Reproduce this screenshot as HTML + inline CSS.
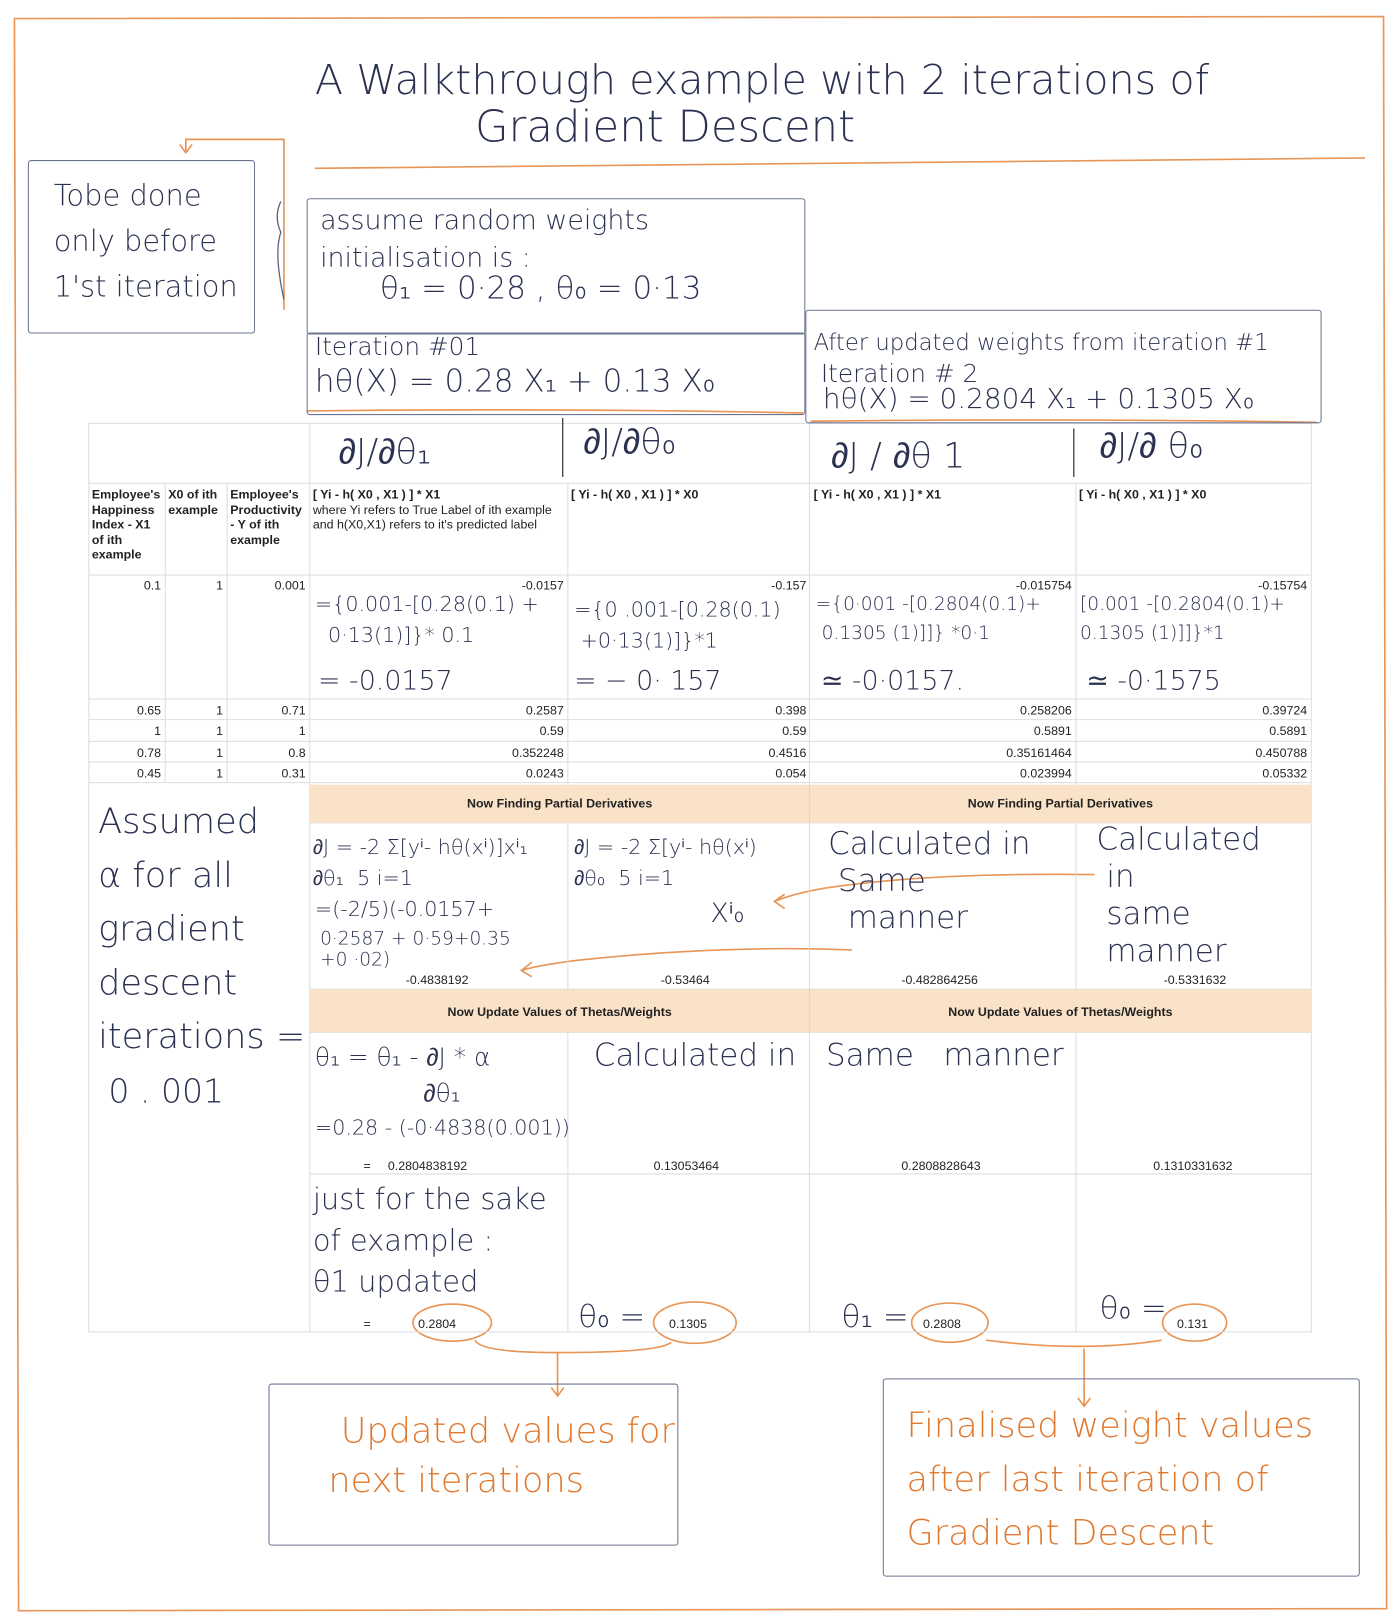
<!DOCTYPE html>
<html><head><meta charset="utf-8"><style>
html,body{margin:0;padding:0;background:#fff;width:1400px;height:1619px;overflow:hidden}
#w{position:absolute;left:0;top:0;width:1356px;height:1568px;transform:scale(1.0325);transform-origin:0 0;font-family:"Liberation Sans",sans-serif}
.a{position:absolute;white-space:nowrap}
.h{color:#2b3150;font-family:"DejaVu Sans","Liberation Sans",sans-serif;font-weight:300}
.o{color:#e0782e}
.box{position:absolute;border:1.5px solid #6a7590;border-radius:3px}
.t{font-size:12px;color:#222}
.b{font-weight:bold}
.r{text-align:right}
</style></head><body><div id="w">
<svg class="a" style="left:0;top:0" width="1356" height="1568">
<g fill="none" stroke="#e89556" stroke-width="1.6">
<path d="M14 18 L1340 16 L1343 1558 L18 1560 Z"/>
<path d="M305 163 Q800 158 1322 153"/>
<path d="M297 398 Q540 395 778 400"/>
<path d="M785 408 Q1030 405 1275 409"/>
<path d="M275 300 L275 135 L180 135 L180 148 M174 140 L180 148 L186 140"/>
<ellipse cx="438" cy="1281" rx="38" ry="18"/>
<ellipse cx="673" cy="1281" rx="40" ry="20"/>
<ellipse cx="920" cy="1281" rx="37" ry="19"/>
<ellipse cx="1157" cy="1281" rx="31" ry="18"/>
<path d="M460 1298 Q465 1310 540 1310 Q640 1310 650 1300 M540 1310 L540 1352 M534 1344 L540 1352 L546 1344"/>
<path d="M955 1298 Q1050 1310 1125 1298 M1050 1306 L1050 1362 M1044 1354 L1050 1362 L1056 1354"/>
<path d="M825 920 Q700 915 560 930 Q520 935 505 940 M515 932 L505 940 L515 946"/>
<path d="M1060 847 Q900 845 800 860 Q770 865 750 873 M760 866 L750 873 L760 880"/>
</g>
<g fill="none" stroke="#5c6784" stroke-width="1.3">
<path d="M272 195 Q265 210 272 225 Q265 245 275 290"/>
</g>
<g stroke="#dadde3" stroke-width="1" fill="none">
<rect x="86" y="410" width="1184" height="880"/>
<path d="M86 468H1270M86 557H1270M86 677H1270M86 697H1270M86 718H1270M86 738H1270M86 758H1270M300 797H1270M300 958H1270M300 1000H1270M300 1137H1270"/>
<path d="M160 468V758M220 468V758M300 410V1290M550 468V760M550 797V958M550 1000V1290M784 410V760M784 797V958M784 1000V1290M1042 468V760M1042 797V958M1042 1000V1290"/>
</g>
<rect x="300" y="760" width="970" height="37" fill="#f9e2c8"/>
<rect x="300" y="958" width="970" height="42" fill="#f9e2c8"/>
<line x1="784" y1="760" x2="784" y2="797" stroke="#eed2b4"/>
<line x1="784" y1="958" x2="784" y2="1000" stroke="#eed2b4"/>
<path d="M545 405 L545 462 M1040 415 L1040 462" stroke="#333" stroke-width="1.2"/>
</svg>

<div class="a h" style="left:305px;top:55px;font-size:40px">A Walkthrough example with 2 iterations of</div>
<div class="a h" style="left:460px;top:98px;font-size:42px">Gradient Descent</div>

<div class="box" style="left:27px;top:155px;width:218px;height:166px"></div>
<div class="a h" style="left:52px;top:168px;font-size:28px;line-height:44px">Tobe done<br>only before<br>1'st iteration</div>

<div class="box" style="left:297px;top:192px;width:481px;height:130px"></div>
<div class="a h" style="left:310px;top:196px;font-size:26px;line-height:36px">assume random weights<br>initialisation is :</div>
<div class="a h" style="left:368px;top:262px;font-size:30px">θ₁ = 0·28 , θ₀ = 0·13</div>

<div class="box" style="left:297px;top:322px;width:481px;height:78px"></div>
<div class="a h" style="left:305px;top:322px;font-size:24px">Iteration #01</div>
<div class="a h" style="left:305px;top:352px;font-size:30px">hθ(X) = 0.28 X₁ + 0.13 X₀</div>

<div class="box" style="left:780px;top:300px;width:498px;height:108px"></div>
<div class="a h" style="left:788px;top:320px;font-size:22px">After updated weights from iteration #1</div>
<div class="a h" style="left:795px;top:348px;font-size:24px">Iteration # 2</div>
<div class="a h" style="left:797px;top:371px;font-size:27px">hθ(X) = 0.2804 X₁ + 0.1305 X₀</div>

<div class="a h" style="left:328px;top:418px;font-size:34px">∂J/∂θ₁</div>
<div class="a h" style="left:565px;top:408px;font-size:34px">∂J/∂θ₀</div>
<div class="a h" style="left:805px;top:422px;font-size:34px">∂J / ∂θ 1</div>
<div class="a h" style="left:1065px;top:412px;font-size:34px">∂J/∂ θ₀</div>

<div class="a t b" style="left:89px;top:472px;line-height:14.5px">Employee's<br>Happiness<br>Index - X1<br>of ith<br>example</div>
<div class="a t b" style="left:163px;top:472px;line-height:14.5px">X0 of ith<br>example</div>
<div class="a t b" style="left:223px;top:472px;line-height:14.5px">Employee's<br>Productivity<br>- Y of ith<br>example</div>
<div class="a t" style="left:303px;top:472px;line-height:14.5px"><b>[ Yi - h( X0 , X1 ) ] * X1</b><br>where Yi refers to True Label of ith example<br>and h(X0,X1) refers to it's predicted label</div>
<div class="a t b" style="left:553px;top:472px">[ Yi - h( X0 , X1 ) ] * X0</div>
<div class="a t b" style="left:788px;top:472px">[ Yi - h( X0 , X1 ) ] * X1</div>
<div class="a t b" style="left:1045px;top:472px">[ Yi - h( X0 , X1 ) ] * X0</div>

<div class="a t r" style="left:86px;width:70px;top:560px">0.1</div>
<div class="a t r" style="left:160px;width:56px;top:560px">1</div>
<div class="a t r" style="left:220px;width:76px;top:560px">0.001</div>
<div class="a t r" style="left:300px;width:246px;top:560px">-0.0157</div>
<div class="a t r" style="left:550px;width:231px;top:560px">-0.157</div>
<div class="a t r" style="left:784px;width:254px;top:560px">-0.015754</div>
<div class="a t r" style="left:1042px;width:224px;top:560px">-0.15754</div>

<div class="a h" style="left:305px;top:570px;font-size:20px;line-height:30px">={0.001-[0.28(0.1) +<br>&nbsp;&nbsp;0·13(1)]}* 0.1</div>
<div class="a h" style="left:308px;top:645px;font-size:26px">= -0.0157</div>
<div class="a h" style="left:556px;top:575px;font-size:20px;line-height:30px">={0 .001-[0.28(0.1)<br>&nbsp;+0·13(1)]}*1</div>
<div class="a h" style="left:556px;top:645px;font-size:26px">= − 0· 157</div>
<div class="a h" style="left:790px;top:572px;font-size:18px;line-height:28px">={0·001 -[0.2804(0.1)+<br>&nbsp;0.1305 (1)]]} *0·1</div>
<div class="a h" style="left:795px;top:645px;font-size:26px">≃ -0·0157.</div>
<div class="a h" style="left:1046px;top:572px;font-size:18px;line-height:28px">[0.001 -[0.2804(0.1)+<br>0.1305 (1)]]}*1</div>
<div class="a h" style="left:1052px;top:645px;font-size:26px">≃ -0·1575</div>

<div class="a t r" style="left:86px;width:70px;top:681px">0.65</div><div class="a t r" style="left:160px;width:56px;top:681px">1</div><div class="a t r" style="left:220px;width:76px;top:681px">0.71</div><div class="a t r" style="left:300px;width:246px;top:681px">0.2587</div><div class="a t r" style="left:550px;width:231px;top:681px">0.398</div><div class="a t r" style="left:784px;width:254px;top:681px">0.258206</div><div class="a t r" style="left:1042px;width:224px;top:681px">0.39724</div>
<div class="a t r" style="left:86px;width:70px;top:701px">1</div><div class="a t r" style="left:160px;width:56px;top:701px">1</div><div class="a t r" style="left:220px;width:76px;top:701px">1</div><div class="a t r" style="left:300px;width:246px;top:701px">0.59</div><div class="a t r" style="left:550px;width:231px;top:701px">0.59</div><div class="a t r" style="left:784px;width:254px;top:701px">0.5891</div><div class="a t r" style="left:1042px;width:224px;top:701px">0.5891</div>
<div class="a t r" style="left:86px;width:70px;top:722px">0.78</div><div class="a t r" style="left:160px;width:56px;top:722px">1</div><div class="a t r" style="left:220px;width:76px;top:722px">0.8</div><div class="a t r" style="left:300px;width:246px;top:722px">0.352248</div><div class="a t r" style="left:550px;width:231px;top:722px">0.4516</div><div class="a t r" style="left:784px;width:254px;top:722px">0.35161464</div><div class="a t r" style="left:1042px;width:224px;top:722px">0.450788</div>
<div class="a t r" style="left:86px;width:70px;top:742px">0.45</div><div class="a t r" style="left:160px;width:56px;top:742px">1</div><div class="a t r" style="left:220px;width:76px;top:742px">0.31</div><div class="a t r" style="left:300px;width:246px;top:742px">0.0243</div><div class="a t r" style="left:550px;width:231px;top:742px">0.054</div><div class="a t r" style="left:784px;width:254px;top:742px">0.023994</div><div class="a t r" style="left:1042px;width:224px;top:742px">0.05332</div>

<div class="a t b" style="left:300px;width:484px;top:771px;text-align:center">Now Finding Partial Derivatives</div>
<div class="a t b" style="left:784px;width:486px;top:771px;text-align:center">Now Finding Partial Derivatives</div>
<div class="a t b" style="left:300px;width:484px;top:973px;text-align:center">Now Update Values of Thetas/Weights</div>
<div class="a t b" style="left:784px;width:486px;top:973px;text-align:center">Now Update Values of Thetas/Weights</div>

<div class="a h" style="left:95px;top:770px;font-size:34px;line-height:52px">Assumed<br>α for all<br>gradient<br>descent<br>iterations =</div>
<div class="a h" style="left:105px;top:1038px;font-size:32px">0 . 001</div>

<div class="a h" style="left:303px;top:805px;font-size:20px;line-height:30px">∂J = -2 Σ[yⁱ- hθ(xⁱ)]xⁱ₁<br>∂θ₁&nbsp;&nbsp;5 i=1</div>
<div class="a h" style="left:305px;top:868px;font-size:20px">=(-2/5)(-0.0157+</div>
<div class="a h" style="left:310px;top:900px;font-size:18px;line-height:20px">0·2587 + 0·59+0.35<br>+0 ·02)</div>
<div class="a t" style="left:393px;top:942px">-0.4838192</div>
<div class="a h" style="left:556px;top:805px;font-size:20px;line-height:30px">∂J = -2 Σ[yⁱ- hθ(xⁱ)<br>∂θ₀&nbsp;&nbsp;5 i=1</div>
<div class="a h" style="left:688px;top:870px;font-size:26px">Xⁱ₀</div>
<div class="a t" style="left:640px;top:942px">-0.53464</div>
<div class="a h" style="left:802px;top:800px;font-size:30px;line-height:36px">Calculated in<br>&nbsp;Same<br>&nbsp;&nbsp;manner</div>
<div class="a t" style="left:873px;top:942px">-0.482864256</div>
<div class="a h" style="left:1062px;top:796px;font-size:30px;line-height:36px">Calculated<br>&nbsp;in<br>&nbsp;same<br>&nbsp;manner</div>
<div class="a t" style="left:1127px;top:942px">-0.5331632</div>

<div class="a h" style="left:305px;top:1010px;font-size:24px">θ₁ = θ₁ - ∂J * α</div>
<div class="a h" style="left:410px;top:1045px;font-size:24px">∂θ₁</div>
<div class="a h" style="left:305px;top:1080px;font-size:20px">=0.28 - (-0·4838(0.001))</div>
<div class="a t" style="left:352px;top:1122px">=&nbsp;&nbsp;&nbsp;&nbsp;&nbsp;0.2804838192</div>
<div class="a h" style="left:575px;top:1005px;font-size:30px">Calculated in</div>
<div class="a t" style="left:633px;top:1122px">0.13053464</div>
<div class="a h" style="left:800px;top:1005px;font-size:30px">Same&nbsp;&nbsp;&nbsp;manner</div>
<div class="a t" style="left:873px;top:1122px">0.2808828643</div>
<div class="a t" style="left:1117px;top:1122px">0.1310331632</div>

<div class="a h" style="left:303px;top:1142px;font-size:28px;line-height:40px">just for the sake<br>of example :<br>θ1 updated</div>
<div class="a t" style="left:352px;top:1275px">=</div>
<div class="a t" style="left:405px;top:1275px">0.2804</div>
<div class="a h" style="left:560px;top:1258px;font-size:30px">θ₀ =</div>
<div class="a t" style="left:648px;top:1275px">0.1305</div>
<div class="a h" style="left:815px;top:1258px;font-size:30px">θ₁ =</div>
<div class="a t" style="left:894px;top:1275px">0.2808</div>
<div class="a h" style="left:1065px;top:1250px;font-size:30px">θ₀ =</div>
<div class="a t" style="left:1140px;top:1275px">0.131</div>

<div class="box" style="left:260px;top:1340px;width:395px;height:155px"></div>
<div class="a h o" style="left:330px;top:1362px;font-size:34px;line-height:48px">Updated values for<br><span style="margin-left:-12px">next iterations</span></div>
<div class="box" style="left:855px;top:1335px;width:460px;height:190px"></div>
<div class="a h o" style="left:878px;top:1355px;font-size:34px;line-height:52px">Finalised weight values<br>after last iteration of<br>Gradient Descent</div>
</div></body></html>
